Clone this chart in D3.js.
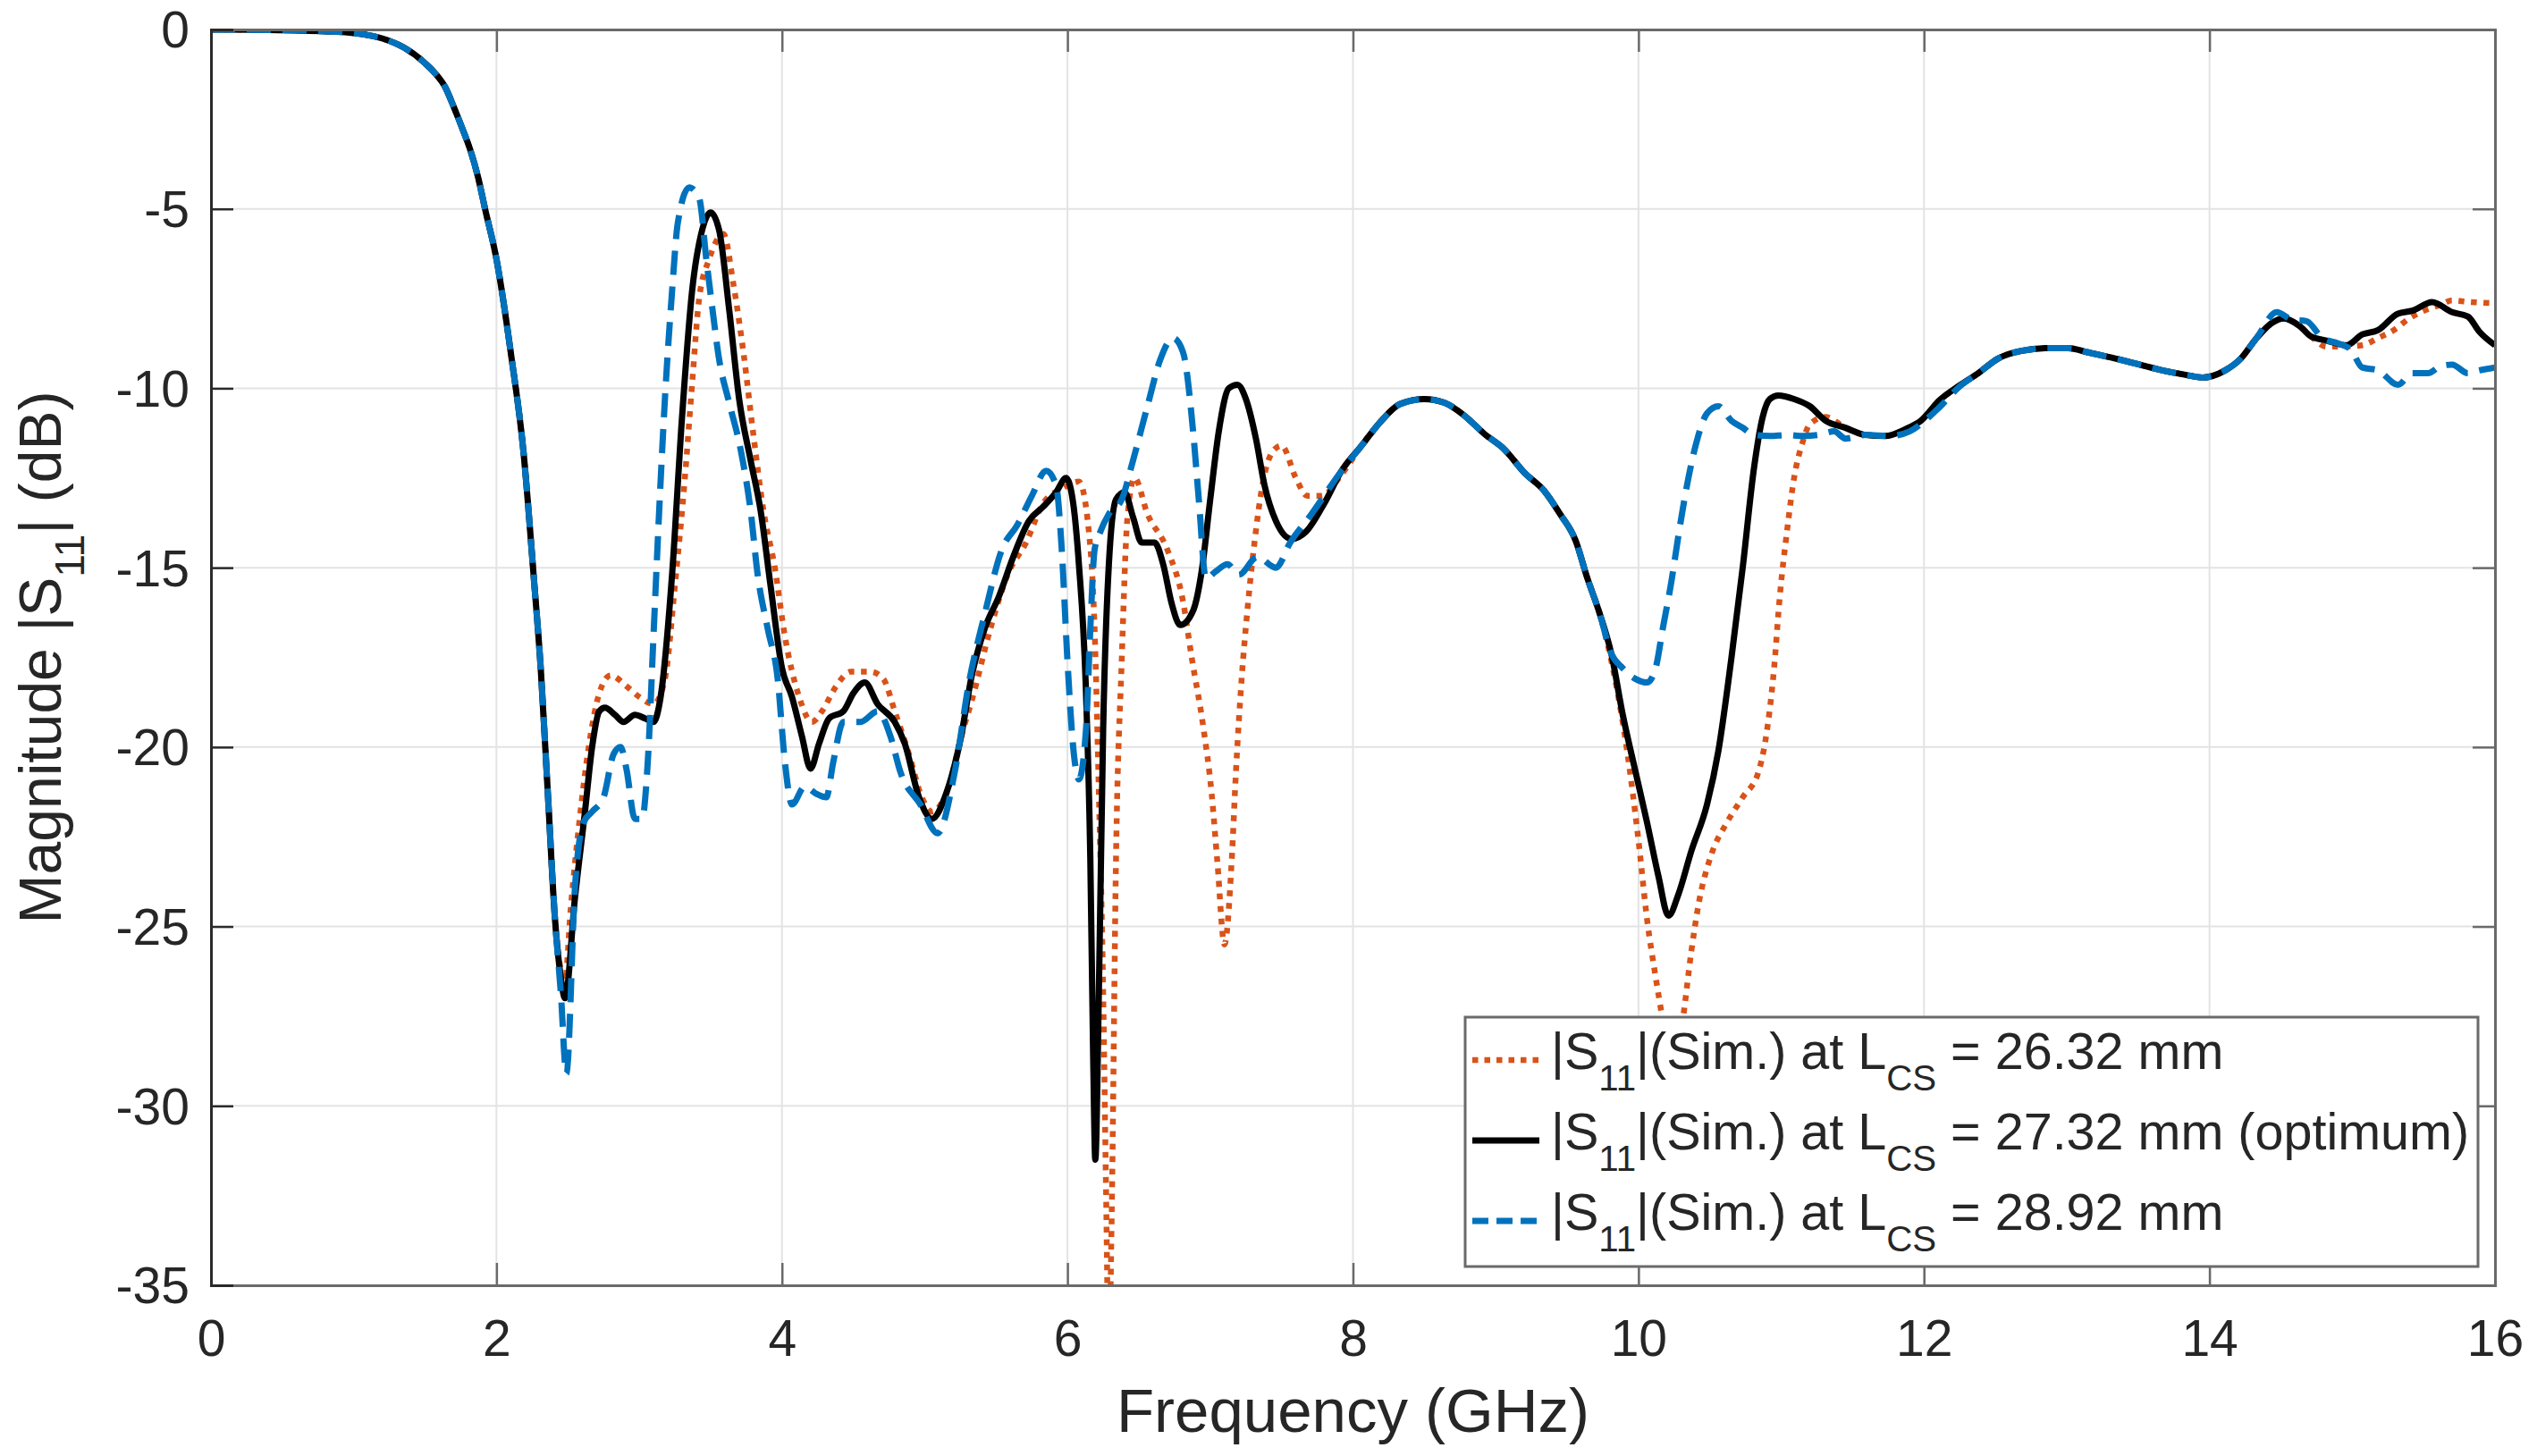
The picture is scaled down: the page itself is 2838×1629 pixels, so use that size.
<!DOCTYPE html>
<html>
<head>
<meta charset="utf-8">
<script src="https://cdn.jsdelivr.net/npm/d3@7"></script>
<style>
  html, body { margin: 0; padding: 0; background: #ffffff; }
  svg { display: block; }
  text { font-family: "Liberation Sans", Arial, Helvetica, sans-serif; fill: #262626; }
</style>
</head>
<body>
<svg id="chart" width="2838" height="1629"></svg>
<script>
// ---------------- DATA ----------------
const xTicks = [0, 2, 4, 6, 8, 10, 12, 14, 16];
const yTicks = [0, -5, -10, -15, -20, -25, -30, -35];

const xLabel = "Frequency (GHz)";
const legendValues = ["26.32 mm", "27.32 mm (optimum)", "28.92 mm"];

// |S11| at LCS = 26.32 mm  [GHz, dB]
const s11_2632 = [
  [0,0],[0.4,-0.01],[0.8,-0.05],[1.0,-0.1],[1.2,-0.25],[1.35,-0.5],[1.5,-0.94],[1.57,-1.22],[1.64,-1.6],[1.7,-2.15],[1.76,-2.75],
  [1.82,-3.4],[1.87,-4.1],[1.92,-5.0],[2.0,-6.4],[2.1,-9.0],[2.19,-11.8],[2.26,-15.2],[2.31,-17.8],[2.36,-21.3],[2.41,-24.8],[2.45,-26.2],
  [2.48,-26.5],[2.52,-24.5],[2.58,-22.1],[2.65,-19.9],[2.72,-18.5],[2.8,-18.0],[2.91,-18.3],[3.0,-18.6],[3.1,-18.8],
  [3.18,-18.1],[3.25,-15.5],[3.32,-12.5],[3.37,-9.9],[3.42,-7.5],[3.49,-6.4],[3.59,-5.7],[3.66,-7.1],[3.73,-9.0],
  [3.8,-11.3],[3.87,-13.4],[3.95,-15.0],[4.02,-16.9],[4.12,-18.6],[4.21,-19.3],[4.28,-19.0],[4.38,-18.3],[4.48,-17.9],
  [4.62,-17.9],[4.71,-18.1],[4.79,-19.0],[4.89,-20.2],[4.98,-21.4],[5.05,-21.8],[5.15,-21.3],[5.27,-19.5],[5.33,-18.7],
  [5.46,-16.7],[5.58,-15.2],[5.71,-14.3],[5.83,-13.2],[5.96,-12.8],[6.08,-12.6],[6.15,-14.0],[6.19,-16.7],[6.22,-21.3],
  [6.25,-26.8],[6.27,-32.3],[6.29,-37.0],[6.31,-33.0],[6.34,-23.1],[6.38,-17.6],[6.42,-13.6],[6.47,-12.5],[6.56,-13.5],
  [6.7,-14.5],[6.81,-15.95],[6.87,-17.5],[6.95,-19.4],[7.01,-21.3],[7.05,-23.2],[7.1,-25.5],[7.15,-23.2],[7.18,-20.7],
  [7.22,-18.1],[7.26,-16.2],[7.31,-14.3],[7.37,-12.6],[7.45,-11.7],[7.5,-11.6],[7.6,-12.5],[7.68,-13.0],[7.78,-13.0],
  [7.92,-12.4],[8.06,-11.6],[8.2,-10.9],[8.33,-10.44],[8.5,-10.3],[8.64,-10.4],[8.78,-10.76],[8.92,-11.27],[9.06,-11.7],
  [9.2,-12.35],[9.34,-12.86],[9.45,-13.5],[9.56,-14.25],[9.64,-15.27],[9.73,-16.3],[9.81,-17.6],[9.92,-20.1],[10.0,-22.6],
  [10.06,-24.8],[10.12,-26.4],[10.17,-27.6],[10.24,-29.0],[10.31,-27.6],[10.37,-25.7],[10.42,-24.4],[10.51,-23.0],
  [10.62,-22.1],[10.73,-21.4],[10.84,-20.7],[10.89,-19.8],[10.95,-17.8],[10.99,-15.8],[11.04,-14.0],[11.09,-12.5],
  [11.15,-11.5],[11.2,-11.0],[11.31,-10.8],[11.45,-11.1],[11.59,-11.3],[11.73,-11.33],[11.87,-11.14],[11.98,-10.9],
  [12.11,-10.33],[12.25,-9.92],[12.38,-9.58],[12.52,-9.17],[12.68,-8.96],[12.88,-8.88],[13.01,-8.88],[13.15,-9.0],
  [13.34,-9.17],[13.51,-9.34],[13.67,-9.5],[13.84,-9.63],[13.95,-9.7],[14.11,-9.5],[14.22,-9.17],[14.33,-8.6],
  [14.44,-8.17],[14.52,-8.05],[14.63,-8.26],[14.71,-8.55],[14.82,-8.84],[14.93,-8.84],[15.07,-8.8],[15.18,-8.6],
  [15.29,-8.38],[15.4,-8.05],[15.5,-7.84],[15.62,-7.67],[15.7,-7.55],[15.81,-7.59],[16.0,-7.63]
];

// |S11| at LCS = 27.32 mm (optimum)  [GHz, dB]
const s11_2732 = [
  [0,0],[0.4,-0.01],[0.8,-0.05],[1.0,-0.1],[1.2,-0.25],[1.35,-0.5],[1.5,-0.94],[1.57,-1.22],[1.64,-1.6],[1.7,-2.15],[1.76,-2.75],
  [1.82,-3.4],[1.87,-4.1],[1.92,-5.0],[2.0,-6.4],[2.1,-9.0],[2.19,-11.8],[2.26,-15.2],[2.31,-17.8],[2.36,-21.3],[2.41,-24.8],[2.45,-26.4],
  [2.48,-27.0],[2.55,-24.2],[2.62,-21.8],[2.67,-20.0],[2.72,-19.0],[2.76,-18.9],[2.83,-19.1],[2.89,-19.3],[2.97,-19.1],
  [3.04,-19.2],[3.1,-19.3],[3.15,-18.6],[3.23,-15.2],[3.3,-10.8],[3.37,-7.3],[3.44,-5.6],[3.5,-5.1],[3.56,-5.6],
  [3.63,-7.8],[3.7,-10.3],[3.78,-12.0],[3.85,-13.4],[3.92,-15.5],[4.0,-17.8],[4.07,-18.6],[4.14,-19.7],[4.2,-20.6],
  [4.26,-19.9],[4.33,-19.2],[4.43,-19.0],[4.5,-18.5],[4.58,-18.2],[4.67,-18.8],[4.79,-19.3],[4.86,-19.9],[4.96,-21.4],
  [5.05,-22.0],[5.15,-21.3],[5.25,-19.8],[5.33,-18.0],[5.42,-16.7],[5.52,-15.8],[5.62,-14.7],[5.73,-13.7],[5.83,-13.3],
  [5.92,-12.9],[5.99,-12.5],[6.04,-13.2],[6.08,-14.9],[6.13,-18.5],[6.16,-23.1],[6.18,-28.6],[6.195,-31.5],[6.22,-26.8],
  [6.25,-19.5],[6.29,-14.9],[6.34,-13.1],[6.4,-12.9],[6.46,-13.6],[6.52,-14.3],[6.61,-14.3],[6.67,-14.9],[6.73,-16.0],
  [6.79,-16.6],[6.88,-16.2],[6.94,-15.1],[7.0,-13.1],[7.06,-11.2],[7.13,-10.0],[7.19,-9.9],[7.25,-10.3],[7.32,-11.4],
  [7.38,-12.7],[7.46,-13.7],[7.57,-14.2],[7.67,-14.0],[7.8,-13.2],[7.92,-12.3],[8.06,-11.6],[8.2,-10.9],[8.33,-10.44],
  [8.5,-10.3],[8.64,-10.4],[8.78,-10.76],[8.92,-11.27],[9.06,-11.7],[9.2,-12.35],[9.34,-12.86],[9.45,-13.5],[9.56,-14.25],
  [9.64,-15.27],[9.73,-16.3],[9.81,-17.4],[9.89,-19.1],[9.98,-20.7],[10.06,-22.1],[10.14,-23.6],[10.21,-24.7],
  [10.28,-24.1],[10.37,-22.9],[10.48,-21.6],[10.56,-20.1],[10.65,-17.55],[10.73,-15.0],[10.81,-12.2],[10.87,-10.8],
  [10.92,-10.3],[10.98,-10.2],[11.09,-10.3],[11.2,-10.5],[11.31,-10.9],[11.45,-11.1],[11.59,-11.3],[11.73,-11.33],
  [11.87,-11.14],[11.98,-10.9],[12.11,-10.33],[12.25,-9.92],[12.38,-9.58],[12.52,-9.17],[12.68,-8.96],[12.88,-8.88],
  [13.01,-8.88],[13.15,-9.0],[13.34,-9.17],[13.51,-9.34],[13.67,-9.5],[13.84,-9.63],[13.95,-9.7],[14.11,-9.5],
  [14.22,-9.17],[14.33,-8.6],[14.44,-8.17],[14.52,-8.05],[14.63,-8.26],[14.71,-8.55],[14.82,-8.67],[14.96,-8.8],
  [15.07,-8.5],[15.18,-8.38],[15.32,-7.92],[15.42,-7.84],[15.56,-7.6],[15.7,-7.88],[15.81,-8.0],[15.89,-8.42],[16.0,-8.8]
];

// |S11| at LCS = 28.92 mm  [GHz, dB]
const s11_2892 = [
  [0,0],[0.4,-0.01],[0.8,-0.05],[1.0,-0.1],[1.2,-0.25],[1.35,-0.5],[1.5,-0.94],[1.57,-1.22],[1.64,-1.6],[1.7,-2.15],[1.76,-2.75],
  [1.82,-3.4],[1.87,-4.1],[1.92,-5.0],[2.0,-6.4],[2.1,-9.0],[2.19,-11.8],[2.26,-15.2],[2.31,-17.8],[2.36,-21.3],[2.41,-24.8],[2.45,-26.8],
  [2.49,-29.1],[2.55,-23.9],[2.61,-22.1],[2.67,-21.8],[2.75,-21.4],[2.82,-20.2],[2.87,-20.0],[2.91,-20.6],[2.97,-22.0],
  [3.02,-22.0],[3.06,-20.4],[3.1,-16.9],[3.14,-13.4],[3.18,-10.3],[3.23,-7.3],[3.27,-5.4],[3.35,-4.4],[3.42,-4.7],
  [3.47,-6.4],[3.51,-7.7],[3.56,-9.2],[3.63,-10.4],[3.71,-11.7],[3.78,-13.4],[3.83,-15.2],[3.9,-16.7],[3.97,-18.1],
  [4.02,-20.4],[4.07,-21.6],[4.16,-21.1],[4.24,-21.3],[4.31,-21.4],[4.36,-20.4],[4.43,-19.3],[4.55,-19.3],[4.67,-19.0],
  [4.76,-19.7],[4.83,-20.7],[4.97,-21.6],[5.09,-22.4],[5.21,-20.7],[5.31,-18.2],[5.42,-16.3],[5.54,-14.5],[5.65,-13.8],
  [5.75,-13.0],[5.85,-12.3],[5.92,-12.7],[5.96,-14.5],[6.0,-17.6],[6.04,-20.0],[6.08,-20.9],[6.13,-19.5],[6.16,-16.7],
  [6.19,-14.5],[6.23,-14.0],[6.29,-13.5],[6.38,-13.1],[6.46,-12.0],[6.56,-10.5],[6.65,-9.2],[6.74,-8.6],[6.81,-9.0],
  [6.88,-11.2],[6.92,-13.1],[6.97,-15.3],[7.04,-15.1],[7.12,-14.9],[7.2,-15.2],[7.33,-14.7],[7.46,-15.0],[7.56,-14.3],
  [7.71,-13.5],[7.92,-12.3],[8.06,-11.6],[8.2,-10.9],[8.33,-10.44],[8.5,-10.3],[8.64,-10.4],[8.78,-10.76],[8.92,-11.27],
  [9.06,-11.7],[9.2,-12.35],[9.34,-12.86],[9.45,-13.5],[9.56,-14.25],[9.64,-15.27],[9.73,-16.3],[9.81,-17.4],[9.89,-17.8],
  [9.98,-18.1],[10.06,-18.2],[10.12,-17.8],[10.17,-16.7],[10.23,-15.4],[10.28,-14.1],[10.34,-12.7],[10.4,-11.6],
  [10.48,-10.7],[10.56,-10.5],[10.65,-10.9],[10.73,-11.1],[10.81,-11.3],[10.92,-11.33],[11.04,-11.3],[11.15,-11.33],
  [11.26,-11.3],[11.37,-11.2],[11.45,-11.4],[11.59,-11.3],[11.76,-11.33],[11.9,-11.2],[12.09,-10.6],[12.25,-9.95],
  [12.38,-9.58],[12.52,-9.17],[12.68,-8.96],[12.88,-8.88],[13.01,-8.88],[13.15,-9.0],[13.34,-9.17],[13.51,-9.34],
  [13.67,-9.5],[13.84,-9.63],[13.95,-9.7],[14.11,-9.5],[14.22,-9.17],[14.33,-8.6],[14.47,-7.88],[14.58,-8.09],
  [14.68,-8.13],[14.79,-8.6],[14.9,-8.75],[14.99,-8.92],[15.07,-9.42],[15.18,-9.5],[15.32,-9.9],[15.42,-9.58],
  [15.53,-9.58],[15.62,-9.38],[15.7,-9.34],[15.81,-9.58],[15.89,-9.5],[16.0,-9.42]
];

// ---------------- LAYOUT ----------------
const W = 2838, H = 1629;
const plot = { left: 236, right: 2791, top: 33, bottom: 1438 };
const FONT_TICK = 57, FONT_XLABEL = 69, FONT_YLABEL = 66, FONT_LEGEND = 57.5;

const svg = d3.select("#chart");
const x = d3.scaleLinear().domain([0, 16]).range([plot.left, plot.right]);
const y = d3.scaleLinear().domain([-35, 0]).range([plot.bottom, plot.top]);

svg.append("rect").attr("width", W).attr("height", H).attr("fill", "#ffffff");

// grid
const grid = svg.append("g").attr("stroke", "#e3e3e3").attr("stroke-width", 2);
xTicks.filter(t => t > 0 && t < 16).forEach(t => {
  grid.append("line").attr("x1", x(t)).attr("x2", x(t)).attr("y1", plot.top).attr("y2", plot.bottom);
});
yTicks.filter(t => t < 0 && t > -35).forEach(t => {
  grid.append("line").attr("y1", y(t)).attr("y2", y(t)).attr("x1", plot.left).attr("x2", plot.right);
});

// clip
svg.append("defs").append("clipPath").attr("id", "clip")
  .append("rect").attr("x", plot.left).attr("y", plot.top)
  .attr("width", plot.right - plot.left).attr("height", plot.bottom - plot.top);

const line = d3.line().x(d => x(d[0])).y(d => y(d[1])).curve(d3.curveMonotoneX);

const series = [
  { data: s11_2632, color: "#D95319", width: 6.5, dash: "6.5,7.5", legDash: "6.5,7" },
  { data: s11_2732, color: "#000000", width: 7,   dash: null,      legDash: null },
  { data: s11_2892, color: "#0072BD", width: 7,   dash: "27,13",   legDash: "18,9" }
];

const lines = svg.append("g").attr("clip-path", "url(#clip)");
series.forEach(s => {
  lines.append("path").datum(s.data)
    .attr("d", line)
    .attr("fill", "none")
    .attr("stroke", s.color)
    .attr("stroke-width", s.width)
    .attr("stroke-linejoin", "round")
    .attr("stroke-dasharray", s.dash);
});

// axes with inward ticks via d3 axis generators
const tickLen = 25;
const fmt = d => String(d);
const axB = svg.append("g").attr("transform", `translate(0,${plot.bottom})`)
  .call(d3.axisBottom(x).tickValues(xTicks).tickSize(-tickLen).tickPadding(0).tickFormat(fmt));
const axT = svg.append("g").attr("transform", `translate(0,${plot.top})`)
  .call(d3.axisTop(x).tickValues(xTicks).tickSize(-tickLen).tickFormat(""));
const axL = svg.append("g").attr("transform", `translate(${plot.left},0)`)
  .call(d3.axisLeft(y).tickValues(yTicks).tickSize(-tickLen).tickPadding(0).tickFormat(fmt));
const axR = svg.append("g").attr("transform", `translate(${plot.right},0)`)
  .call(d3.axisRight(y).tickValues(yTicks).tickSize(-tickLen).tickFormat(""));

[axB, axT, axR].forEach(a => {
  a.select(".domain").attr("stroke", "#6a6a6a").attr("stroke-width", 3);
  a.selectAll(".tick line").attr("stroke", "#6a6a6a").attr("stroke-width", 2.5);
});
axL.select(".domain").attr("stroke", "#2a2a2a").attr("stroke-width", 3);
axL.selectAll(".tick line").attr("stroke", "#2a2a2a").attr("stroke-width", 2.5);
[axB, axL, axT, axR].forEach(a => a.attr("font-family", null).attr("font-size", null));

axB.selectAll(".tick text")
  .attr("font-size", FONT_TICK).attr("fill", "#262626")
  .attr("y", 1517 - plot.bottom).attr("dy", null);

axL.selectAll(".tick text")
  .attr("font-size", FONT_TICK).attr("fill", "#262626")
  .attr("x", -(plot.left - 212)).attr("dy", "0.35em");

// axis labels
svg.append("text")
  .attr("x", (plot.left + plot.right) / 2).attr("y", 1602)
  .attr("text-anchor", "middle").attr("font-size", FONT_XLABEL)
  .text(xLabel);

const yl = svg.append("text")
  .attr("transform", `translate(68,${(plot.top + plot.bottom) / 2}) rotate(-90)`)
  .attr("text-anchor", "middle").attr("font-size", FONT_YLABEL);
yl.append("tspan").text("Magnitude |S");
yl.append("tspan").attr("font-size", FONT_YLABEL * 0.7).attr("dy", FONT_YLABEL * 0.4).text("11");
yl.append("tspan").attr("dy", -FONT_YLABEL * 0.4).text("| (dB)");

// legend
const lg = { x: 1639, y: 1138, w: 1133, h: 279 };
svg.append("rect").attr("x", lg.x).attr("y", lg.y).attr("width", lg.w).attr("height", lg.h)
  .attr("fill", "#ffffff").attr("stroke", "#6a6a6a").attr("stroke-width", 3);

const baselines = [1196, 1286, 1376];
series.forEach((s, i) => {
  const by = baselines[i];
  svg.append("line").attr("x1", 1647).attr("x2", 1722).attr("y1", by - 10).attr("y2", by - 10)
    .attr("stroke", s.color).attr("stroke-width", s.width).attr("stroke-dasharray", s.legDash);
  const t = svg.append("text").attr("x", 1735).attr("y", by).attr("font-size", FONT_LEGEND);
  t.append("tspan").text("|S");
  t.append("tspan").attr("font-size", FONT_LEGEND * 0.7).attr("dy", 24).text("11");
  t.append("tspan").attr("dy", -24).text("|(Sim.) at L");
  t.append("tspan").attr("font-size", FONT_LEGEND * 0.7).attr("dy", 24).text("CS");
  t.append("tspan").attr("dy", -24).text(" = " + legendValues[i]);
});
</script>
</body>
</html>
